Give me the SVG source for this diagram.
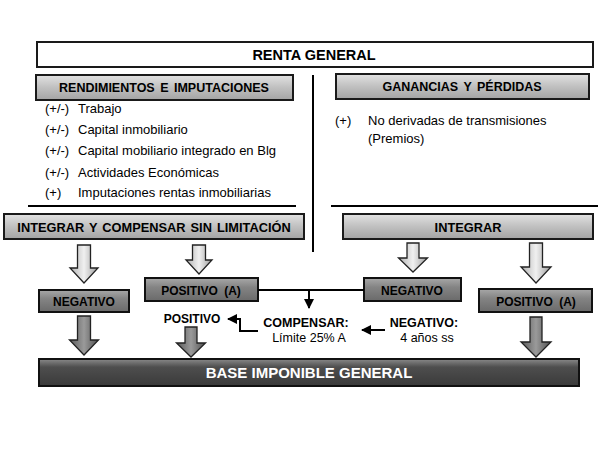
<svg xmlns="http://www.w3.org/2000/svg" width="600" height="450" viewBox="0 0 600 450">
<defs>
<linearGradient id="gLight" x1="0" y1="0" x2="0" y2="1">
<stop offset="0" stop-color="#e2e2e2"/><stop offset="0.5" stop-color="#c0c0c0"/><stop offset="1" stop-color="#a4a4a4"/>
</linearGradient>
<linearGradient id="gMid" x1="0" y1="0" x2="0" y2="1">
<stop offset="0" stop-color="#a8a8a8"/><stop offset="0.4" stop-color="#848484"/><stop offset="1" stop-color="#6a6a6a"/>
</linearGradient>
<linearGradient id="gDark" x1="0" y1="0" x2="0" y2="1">
<stop offset="0" stop-color="#8a8a8a"/><stop offset="0.3" stop-color="#4e4e4e"/><stop offset="1" stop-color="#3a3a3a"/>
</linearGradient>
<linearGradient id="gArrowL" x1="0" y1="0" x2="1" y2="0">
<stop offset="0" stop-color="#b0b0b0"/><stop offset="0.5" stop-color="#f0f0f0"/><stop offset="1" stop-color="#9c9c9c"/>
</linearGradient>
<linearGradient id="gArrowD" x1="0" y1="0" x2="1" y2="0">
<stop offset="0" stop-color="#5a5a5a"/><stop offset="0.5" stop-color="#9a9a9a"/><stop offset="1" stop-color="#505050"/>
</linearGradient>
<marker id="ah" viewBox="0 0 10 10" refX="9" refY="5" markerWidth="5" markerHeight="5" orient="auto">
<path d="M0,0 L10,5 L0,10 Z" fill="#000"/>
</marker>
</defs>
<style>
.t{font-family:"Liberation Sans",Arial,sans-serif;fill:#000}
.b{font-weight:bold}
.light{fill:url(#gLight);stroke:#1a1a1a;stroke-width:2}
.mid{fill:url(#gMid);stroke:#111;stroke-width:2}
.dark{fill:url(#gDark);stroke:#111;stroke-width:2}
.al{fill:url(#gArrowL);stroke:#222;stroke-width:1.3}
.ad{fill:url(#gArrowD);stroke:#222;stroke-width:1.3}
.ln{stroke:#000;stroke-width:2;fill:none}
.li{font-size:13px}
</style>
<rect width="600" height="450" fill="#fff"/>

<g id="renta-general">
<rect x="37" y="42" width="556" height="25" fill="#fff" stroke="#1a1a1a" stroke-width="2"/>
<text class="t b" x="314" y="60" font-size="14.5" text-anchor="middle">RENTA GENERAL</text>
</g>

<g id="rendimientos">
<rect class="light" x="36" y="75" width="257" height="25"/>
<text class="t b" x="164" y="92" font-size="12.5" text-anchor="middle" word-spacing="2">RENDIMIENTOS E IMPUTACIONES</text>
<text class="t li" x="45" y="113">(+/-)</text><text class="t li" x="78" y="113">Trabajo</text>
<text class="t li" x="45" y="134">(+/-)</text><text class="t li" x="78" y="134">Capital inmobiliario</text>
<text class="t li" x="45" y="155">(+/-)</text><text class="t li" x="78" y="155">Capital mobiliario integrado en Blg</text>
<text class="t li" x="45" y="177">(+/-)</text><text class="t li" x="78" y="177">Actividades Económicas</text>
<text class="t li" x="45" y="197">(+)</text><text class="t li" x="78" y="197">Imputaciones rentas inmobiliarias</text>
</g>

<g id="ganancias">
<rect class="light" x="336" y="74" width="253" height="25"/>
<text class="t b" x="462" y="91" font-size="12.5" text-anchor="middle" word-spacing="2">GANANCIAS Y PÉRDIDAS</text>
<text class="t li" x="335" y="125">(+)</text><text class="t li" x="368" y="125">No derivadas de transmisiones</text>
<text class="t li" x="368" y="143">(Premios)</text>
</g>

<g id="integrar-compensar">
<rect class="light" x="4" y="214" width="300" height="25"/>
<text class="t b" x="154" y="232" font-size="12.8" text-anchor="middle" word-spacing="1.5">INTEGRAR Y COMPENSAR SIN LIMITACIÓN</text>
</g>

<g id="integrar">
<rect class="light" x="343" y="214" width="250" height="25"/>
<text class="t b" x="468" y="232" font-size="12.8" text-anchor="middle">INTEGRAR</text>
</g>

<g id="negativo-izq">
<rect class="mid" x="39" y="290" width="90" height="22"/>
<text class="t b" x="84" y="306" font-size="12" text-anchor="middle">NEGATIVO</text>
</g>

<g id="positivo-a-izq">
<rect class="mid" x="145" y="278" width="113" height="23"/>
<text class="t b" x="201" y="295" font-size="12" text-anchor="middle" word-spacing="3">POSITIVO (A)</text>
</g>

<g id="negativo-der">
<rect class="mid" x="364" y="278" width="97" height="23"/>
<text class="t b" x="412" y="295" font-size="12" text-anchor="middle">NEGATIVO</text>
</g>

<g id="positivo-a-der">
<rect class="mid" x="479" y="289" width="113" height="23"/>
<text class="t b" x="536" y="306" font-size="12" text-anchor="middle" word-spacing="3">POSITIVO (A)</text>
</g>

<g id="positivo">
<text class="t b" x="192" y="323" font-size="12" text-anchor="middle">POSITIVO</text>
</g>

<g id="compensar">
<text class="t b" x="306" y="327" font-size="12.5" text-anchor="middle">COMPENSAR:</text>
<text class="t" x="309" y="342" font-size="12.5" text-anchor="middle">Límite 25% A</text>
</g>

<g id="negativo-4">
<text class="t b" x="424" y="327" font-size="12.5" text-anchor="middle">NEGATIVO:</text>
<text class="t" x="427" y="342" font-size="12.5" text-anchor="middle">4 años ss</text>
</g>

<g id="base-imponible">
<rect class="dark" x="39" y="359" width="540" height="27"/>
<text class="t b" x="309" y="378" font-size="15" text-anchor="middle" style="fill:#fff">BASE IMPONIBLE GENERAL</text>
</g>

<g id="connectors">
<line class="ln" x1="313" y1="75" x2="313" y2="252"/>
<line class="ln" x1="28" y1="206" x2="296" y2="206"/>
<line class="ln" x1="331" y1="206" x2="598" y2="206"/>
<path class="al" d="M77.5,245 H90.5 V268 H98 L84,283 L70,268 H77.5 Z"/>
<path class="al" d="M192.5,245 H205.5 V260 H212 L199,274 L186,260 H192.5 Z"/>
<path class="al" d="M407,243 H419 V258 H427.5 L413,272 L398.5,258 H407 Z"/>
<path class="al" d="M529.5,243 H542.5 V267 H551 L536,283 L521,267 H529.5 Z"/>
<path class="ad" d="M77.5,316 H90.5 V340 H98.5 L84,355 L69.5,340 H77.5 Z"/>
<path class="ad" d="M185,327 H197 V343 H205.5 L191,357 L176.5,343 H185 Z"/>
<path class="ad" d="M530,317 H542 V342 H551 L536,357 L521,342 H530 Z"/>
<path class="ln" d="M258,290 H364"/>
<path class="ln" d="M309,290 V308" marker-end="url(#ah)"/>
<path class="ln" d="M258,331 H240 V319 H228" marker-end="url(#ah)"/>
<path class="ln" d="M385,330 H362" marker-end="url(#ah)"/>
</g>
</svg>
